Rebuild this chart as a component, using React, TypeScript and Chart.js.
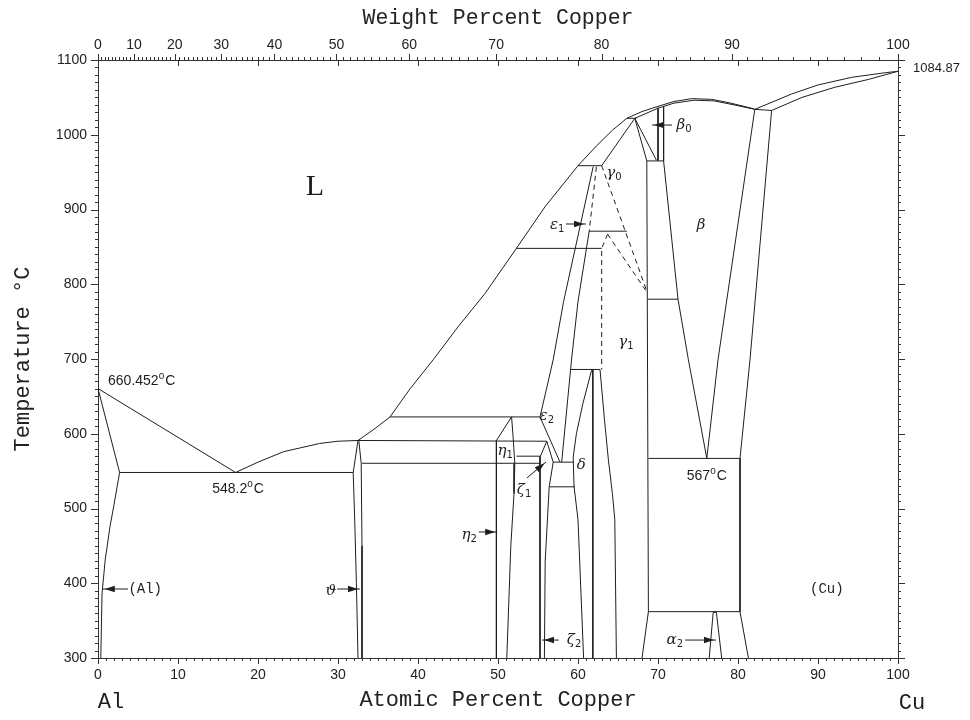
import React, { useEffect, useRef } from 'react';
import { Chart, registerables } from 'chart.js';

Chart.register(...registerables);

type Pt = [number, number];

// ---------- axes ----------
const AT_TICKS = [0, 10, 20, 30, 40, 50, 60, 70, 80, 90, 100];
const WT_TICKS = [0, 10, 20, 30, 40, 50, 60, 70, 80, 90, 100];
const T_TICKS = [300, 400, 500, 600, 700, 800, 900, 1000, 1100];
const M_CU = 63.546;
const M_AL = 26.9815;
const wtToAt = (w: number) =>
  w <= 0 ? 0 : w >= 100 ? 100 : (100 * (w / M_CU)) / (w / M_CU + (100 - w) / M_AL);

// ---------- phase boundaries (at.% Cu, °C) : solid ----------
const liqAl: Pt[] = [[0, 660.452], [17.2, 548.2]];
const solvusAl: Pt[] = [[0, 660.452], [2.7, 548.2], [2.0, 505], [1.5, 476], [0.9, 431], [0.5, 386], [0.35, 300]];
const eut548: Pt[] = [[2.7, 548.2], [31.9, 548.2]];
const liqMain: Pt[] = [
  [17.2, 548.2], [20, 562], [23.2, 576], [27.7, 587], [30, 590], [32.5, 591], [34.5, 606], [36.5, 622.5],
  [39, 660], [41.9, 699], [45, 743], [48.4, 788], [52.3, 848], [55.9, 904], [60, 958.6], [62.3, 985],
  [64.3, 1006], [66.1, 1022], [68, 1031], [70, 1038], [72, 1044.5], [74.2, 1048.3], [76.7, 1047.4],
  [79, 1042.5], [81.7, 1035.5], [82.1, 1034],
];
const solBeta: Pt[] = [[67.1, 1022], [70, 1035.5], [72, 1042.3], [74.5, 1046.2], [77, 1045.3], [79.5, 1040], [82.1, 1034]];
const h1022: Pt[] = [[66.1, 1022], [67.3, 1022]];
const gamma0Left: Pt[] = [[67.1, 1022], [62.96, 958.6]];
const beta0a: Pt[] = [[67.1, 1022], [68.6, 965]];
const beta0b: Pt[] = [[67.1, 1022], [69.8, 966]];
const beta0v1: Pt[] = [[70.0, 1036], [70.0, 965]];
const beta0v2: Pt[] = [[70.7, 1038], [70.7, 965]];
const h965: Pt[] = [[68.6, 965], [70.7, 965]];
const gamma1Right: Pt[] = [[68.6, 965], [68.8, 362], [68.0, 300]];
const betaLeft: Pt[] = [[70.7, 965], [72.5, 780], [73.8, 699], [76.1, 567]];
const h780: Pt[] = [[68.7, 780], [72.5, 780]];
const betaRight: Pt[] = [[82.1, 1034], [77.5, 699], [76.1, 567]];
const cuSolvus: Pt[] = [[84.2, 1032.5], [81.5, 699], [80.25, 567], [80.25, 362], [81.3, 300]];
const h1033: Pt[] = [[82.1, 1034], [84.2, 1032.5]];
const liqCu: Pt[] = [[82.1, 1034], [86.7, 1054.5], [90, 1066.6], [94.2, 1076.8], [98.4, 1083], [100, 1084.87]];
const solCu: Pt[] = [[84.2, 1032.5], [88, 1050], [92.1, 1063.5], [96.3, 1074], [100, 1084.87]];
const h567: Pt[] = [[68.8, 567], [80.25, 567]];
const h363: Pt[] = [[68.8, 362], [80.25, 362]];
const alpha2: Pt[] = [[76.4, 300], [76.9, 361], [77.3, 361], [77.96, 300]];
const h958: Pt[] = [[60, 958.6], [62.96, 958.6]];
const h872: Pt[] = [[61.4, 871], [66.1, 871]];
const h848: Pt[] = [[52.3, 848], [62.96, 848]];
const eps1Left: Pt[] = [[61.9, 957.5], [58.2, 777], [56.9, 699], [55.25, 622.5], [57.75, 562]];
const eps1Right: Pt[] = [[61.4, 871], [60.0, 777], [59.2, 700], [57.96, 562]];
const h686: Pt[] = [[59.1, 686], [62.75, 686]];
const deltaLeft: Pt[] = [[61.7, 685], [60.6, 640], [59.8, 600], [59.4, 569], [59.5, 530], [60.0, 485], [60.7, 300]];
const v619: Pt[] = [[61.85, 686], [61.85, 300]];
const deltaRight: Pt[] = [[62.75, 686], [63.3, 620], [63.8, 565], [64.3, 520], [64.6, 485], [64.8, 300]];
const h562: Pt[] = [[56.9, 562], [59.4, 562]];
const h530: Pt[] = [[56.4, 529], [59.6, 529]];
const h622: Pt[] = [[36.5, 622.5], [55.25, 622.5]];
const h591: Pt[] = [[32.5, 591], [56.1, 590]];
const h570: Pt[] = [[52.3, 570], [55.3, 570]];
const h560: Pt[] = [[33.0, 560.5], [55.25, 560.5]];
const thetaLeft: Pt[] = [[32.5, 591], [31.9, 548.2], [32.1, 480], [32.3, 400], [32.5, 300]];
const thetaRight: Pt[] = [[32.6, 591], [32.9, 560.5], [33.0, 450], [33.0, 300]];
const eta1Left: Pt[] = [[51.7, 622.5], [49.8, 591]];
const eta2Left: Pt[] = [[49.8, 591], [49.8, 300]];
const etaRight: Pt[] = [[51.7, 622.5], [51.9, 594], [52.1, 560], [52.0, 520], [51.6, 450], [51.1, 300]];
const zeta1a: Pt[] = [[56.1, 590], [55.3, 570]];
const zeta1b: Pt[] = [[56.1, 590], [56.9, 562], [56.4, 529]];
const zeta2Left: Pt[] = [[55.25, 570], [55.25, 300]];
const zeta2Right: Pt[] = [[56.4, 529], [55.9, 430], [55.8, 300]];

// ---------- dashed boundaries ----------
const dLong: Pt[] = [[62.96, 958.6], [68.7, 788]];
const d872: Pt[] = [[63.7, 867], [68.7, 788]];
const gamma1Apex: Pt[] = [[63.7, 867], [62.96, 848], [62.96, 686]];
const eps1Dash: Pt[] = [[62.3, 957], [61.4, 871]];

const SOLID: Pt[][] = [
  liqAl, solvusAl, eut548, liqMain, solBeta, h1022, gamma0Left, beta0a, beta0b, beta0v1, beta0v2, h965,
  gamma1Right, betaLeft, h780, betaRight, cuSolvus, h1033, liqCu, solCu, h567, h363, alpha2, h958, h872,
  h848, eps1Left, eps1Right, h686, deltaLeft, v619, deltaRight, h562, h530, h622, h591, h570, h560,
  thetaLeft, thetaRight, eta1Left, eta2Left, etaRight, zeta1a, zeta1b, zeta2Left, zeta2Right,
];
const DASHED: Pt[][] = [dLong, d872, gamma1Apex, eps1Dash];

// ---------- labels ----------
const PHASE_LABELS: { x: number; y: number; m: string; s?: string }[] = [
  { x: 29.1, y: 390, m: '\u03D1' },
  { x: 46.4, y: 464.5, m: '\u03B7', s: '2' },
  { x: 50.9, y: 577, m: '\u03B7', s: '1' },
  { x: 56.1, y: 623.7, m: '\u03B5', s: '2' },
  { x: 60.4, y: 558, m: '\u03B4' },
  { x: 53.25, y: 524.7, m: '\u03B6', s: '1' },
  { x: 59.5, y: 324, m: '\u03B6', s: '2' },
  { x: 57.4, y: 879, m: '\u03B5', s: '1' },
  { x: 64.5, y: 949, m: '\u03B3', s: '0' },
  { x: 66.0, y: 722.7, m: '\u03B3', s: '1' },
  { x: 73.25, y: 1013, m: '\u03B2', s: '0' },
  { x: 75.4, y: 879, m: '\u03B2' },
  { x: 72.1, y: 324, m: '\u03B1', s: '2' },
];
const PLAIN_LABELS: { x: number; y: number; t: string }[] = [
  { x: 5.9, y: 392, t: '(Al)' },
  { x: 91.1, y: 391.6, t: '(Cu)' },
];
const TEMP_LABELS: { x: number; y: number; t: string }[] = [
  { x: 5.46, y: 672, t: '660.452' },
  { x: 17.5, y: 527.4, t: '548.2' },
  { x: 76.1, y: 545, t: '567' },
];
const CU_MELT: Pt = [100, 1084.87];
// arrows: tail -> tip
const ARROWS: [number, number, number, number][] = [
  [3.75, 392.3, 0.6, 392.3],
  [29.9, 392.3, 32.75, 392.3],
  [47.6, 468.6, 49.9, 468.6],
  [53.6, 540.8, 56.0, 562.2],
  [57.6, 324, 55.5, 324],
  [58.5, 880.6, 61.0, 880.6],
  [71.75, 1013, 69.25, 1013],
  [73.4, 324, 77.25, 324],
];

const INK = '#1e1e1e';

const tickPlugin = {
  id: 'tickMarks',
  afterDraw(chart: any) {
    const { ctx, chartArea: a, scales } = chart;
    const sx = scales.x;
    const sy = scales.y;
    ctx.save();
    ctx.strokeStyle = '#333';
    ctx.lineWidth = 1;
    ctx.beginPath();
    for (let v = 0; v <= 100; v++) {
      const px = Math.round(sx.getPixelForValue(v)) + 0.5;
      const major = v % 10 === 0;
      ctx.moveTo(px, a.bottom);
      ctx.lineTo(px, a.bottom + (major ? 6 : 3));
      if (major && v > 0 && v < 100) {
        ctx.moveTo(px, a.top);
        ctx.lineTo(px, a.top + 6);
      }
    }
    for (let w = 0; w <= 100; w++) {
      const px = Math.round(sx.getPixelForValue(wtToAt(w))) + 0.5;
      ctx.moveTo(px, a.top);
      ctx.lineTo(px, a.top - (w % 10 === 0 ? 6 : 3));
    }
    for (let t = 300; t <= 1100; t += 10) {
      const py = Math.round(sy.getPixelForValue(t)) + 0.5;
      const len = t % 100 === 0 ? 7 : 3;
      ctx.moveTo(a.left, py);
      ctx.lineTo(a.left - len, py);
      ctx.moveTo(a.right, py);
      ctx.lineTo(a.right + len, py);
    }
    ctx.stroke();
    ctx.restore();
  },
};

function drawTemp(ctx: CanvasRenderingContext2D, cx: number, cy: number, num: string) {
  const f1 = "14px 'Liberation Sans'";
  const f2 = "10px 'Liberation Sans'";
  ctx.font = f1;
  const w1 = ctx.measureText(num).width;
  const wC = ctx.measureText('C').width;
  ctx.font = f2;
  const wo = ctx.measureText('o').width;
  const total = w1 + wo + 1 + wC;
  let x = cx - total / 2;
  ctx.textAlign = 'left';
  ctx.textBaseline = 'alphabetic';
  const base = cy + 5;
  ctx.font = f1;
  ctx.fillText(num, x, base);
  x += w1;
  ctx.font = f2;
  ctx.fillText('o', x, base - 6);
  x += wo + 1;
  ctx.font = f1;
  ctx.fillText('C', x, base);
}

const annotationPlugin = {
  id: 'phaseLabels',
  afterDraw(chart: any) {
    const { ctx, scales } = chart;
    const X = (v: number) => scales.x.getPixelForValue(v);
    const Y = (v: number) => scales.y.getPixelForValue(v);
    ctx.save();
    ctx.fillStyle = INK;
    ctx.strokeStyle = INK;
    ctx.lineWidth = 1;

    // L
    ctx.font = "30px 'Liberation Serif'";
    ctx.textAlign = 'center';
    ctx.textBaseline = 'middle';
    ctx.fillText('L', X(27.1), Y(930));

    // phase symbols
    for (const l of PHASE_LABELS) {
      const fm = "italic 15px 'DejaVu Serif'";
      const fs = "10px 'DejaVu Sans'";
      ctx.font = fm;
      const wm = ctx.measureText(l.m).width;
      ctx.font = fs;
      const ws = l.s ? ctx.measureText(l.s).width : 0;
      const total = wm + ws;
      const x0 = X(l.x) - total / 2;
      const base = Y(l.y) + 4;
      ctx.textAlign = 'left';
      ctx.textBaseline = 'alphabetic';
      ctx.font = fm;
      ctx.fillText(l.m, x0, base);
      if (l.s) {
        ctx.font = fs;
        ctx.fillText(l.s, x0 + wm, base + 3);
      }
    }

    ctx.font = "14px 'Liberation Mono'";
    ctx.textAlign = 'center';
    ctx.textBaseline = 'middle';
    for (const l of PLAIN_LABELS) ctx.fillText(l.t, X(l.x), Y(l.y));

    for (const l of TEMP_LABELS) drawTemp(ctx, X(l.x), Y(l.y), l.t);

    ctx.font = "13px 'Liberation Sans'";
    ctx.textAlign = 'left';
    ctx.textBaseline = 'middle';
    ctx.fillText('1084.87', X(CU_MELT[0]) + 15, Y(CU_MELT[1]) - 3);

    // arrows
    for (const [x1, y1, x2, y2] of ARROWS) {
      const ax = X(x1), ay = Y(y1), bx = X(x2), by = Y(y2);
      const ang = Math.atan2(by - ay, bx - ax);
      const hl = 10, hw = 3.2;
      const tx = bx - Math.cos(ang) * 2, ty = by - Math.sin(ang) * 2;
      ctx.beginPath();
      ctx.moveTo(ax, ay);
      ctx.lineTo(bx, by);
      ctx.stroke();
      ctx.beginPath();
      ctx.moveTo(tx, ty);
      ctx.lineTo(tx - Math.cos(ang) * hl - Math.sin(ang) * hw, ty - Math.sin(ang) * hl + Math.cos(ang) * hw);
      ctx.lineTo(tx - Math.cos(ang) * hl + Math.sin(ang) * hw, ty - Math.sin(ang) * hl - Math.cos(ang) * hw);
      ctx.closePath();
      ctx.fill();
    }

    // element names
    ctx.font = "22px 'Liberation Mono'";
    ctx.textAlign = 'center';
    ctx.textBaseline = 'middle';
    ctx.fillText('Al', X(0) + 13, 702);
    ctx.fillText('Cu', X(100) + 14, 703);
    ctx.restore();
  },
};

export default function App() {
  const ref = useRef<HTMLCanvasElement>(null);
  useEffect(() => {
    const canvas = ref.current;
    if (!canvas) return;
    const toData = (p: Pt[]) => p.map(([x, y]) => ({ x, y }));
    const datasets: any[] = [
      ...SOLID.map((p) => ({ data: toData(p), borderDash: [] as number[] })),
      ...DASHED.map((p) => ({ data: toData(p), borderDash: [5, 4] })),
    ].map((d) => ({
      ...d,
      showLine: true,
      borderColor: INK,
      backgroundColor: INK,
      borderWidth: 1,
      pointRadius: 0,
      tension: 0,
      fill: false,
    }));

    const tickFont = { family: "'Liberation Sans'", size: 14 };
    const titleFont = { family: "'Liberation Mono'", size: 22 };

    const chart = new Chart(canvas, {
      type: 'scatter',
      data: { datasets },
      plugins: [tickPlugin, annotationPlugin],
      options: {
        responsive: false,
        animation: false,
        layout: { padding: 0 },
        plugins: { legend: { display: false }, tooltip: { enabled: false } },
        scales: {
          x: {
            type: 'linear',
            position: 'bottom',
            min: 0,
            max: 100,
            afterBuildTicks: (s: any) => {
              s.ticks = AT_TICKS.map((v) => ({ value: v }));
            },
            afterFit: (s: any) => {
              s.height = 62;
            },
            grid: { display: false, drawTicks: false },
            border: { display: true, color: '#333', width: 1 },
            ticks: {
              padding: 8.5,
              font: tickFont,
              color: '#222',
              maxRotation: 0,
              autoSkip: false,
              callback: (v: any) => String(v),
            },
            title: { display: true, text: 'Atomic Percent Copper', font: titleFont, color: '#222', padding: { top: 0, bottom: 7 } },
          },
          x2: {
            type: 'linear',
            position: 'top',
            min: 0,
            max: 100,
            afterBuildTicks: (s: any) => {
              s.ticks = WT_TICKS.map((w) => ({ value: wtToAt(w) }));
            },
            afterFit: (s: any) => {
              s.height = 60;
            },
            grid: { display: false, drawTicks: false },
            border: { display: true, color: '#333', width: 1 },
            ticks: {
              padding: 6.5,
              font: tickFont,
              color: '#222',
              maxRotation: 0,
              autoSkip: false,
              callback: (_v: any, i: number) => String(WT_TICKS[i]),
            },
            title: { display: true, text: 'Weight Percent Copper', font: { family: "'Liberation Mono'", size: 21.5 }, color: '#222', padding: { top: 5.5, bottom: 0 } },
          },
          y: {
            type: 'linear',
            position: 'left',
            min: 300,
            max: 1100,
            afterBuildTicks: (s: any) => {
              s.ticks = T_TICKS.map((v) => ({ value: v }));
            },
            afterFit: (s: any) => {
              s.width = 98;
            },
            grid: { display: false, drawTicks: false },
            border: { display: true, color: '#333', width: 1 },
            ticks: { padding: 11, font: tickFont, color: '#222', autoSkip: false, callback: (v: any) => String(v) },
            title: { display: true, text: 'Temperature \u00B0C', font: titleFont, color: '#222', padding: { top: 9.5, bottom: 0 } },
          },
          y2: {
            type: 'linear',
            position: 'right',
            min: 300,
            max: 1100,
            afterFit: (s: any) => {
              s.width = 72;
            },
            grid: { display: false, drawTicks: false },
            border: { display: true, color: '#333', width: 1 },
            ticks: { display: false },
          },
        },
      } as any,
    });
    return () => chart.destroy();
  }, []);

  return (
    <div style={{ position: 'absolute', left: 0, top: 0, width: 970, height: 720, background: '#fff' }}>
      <canvas ref={ref} width={970} height={720} style={{ display: 'block', width: 970, height: 720 }} />
    </div>
  );
}
